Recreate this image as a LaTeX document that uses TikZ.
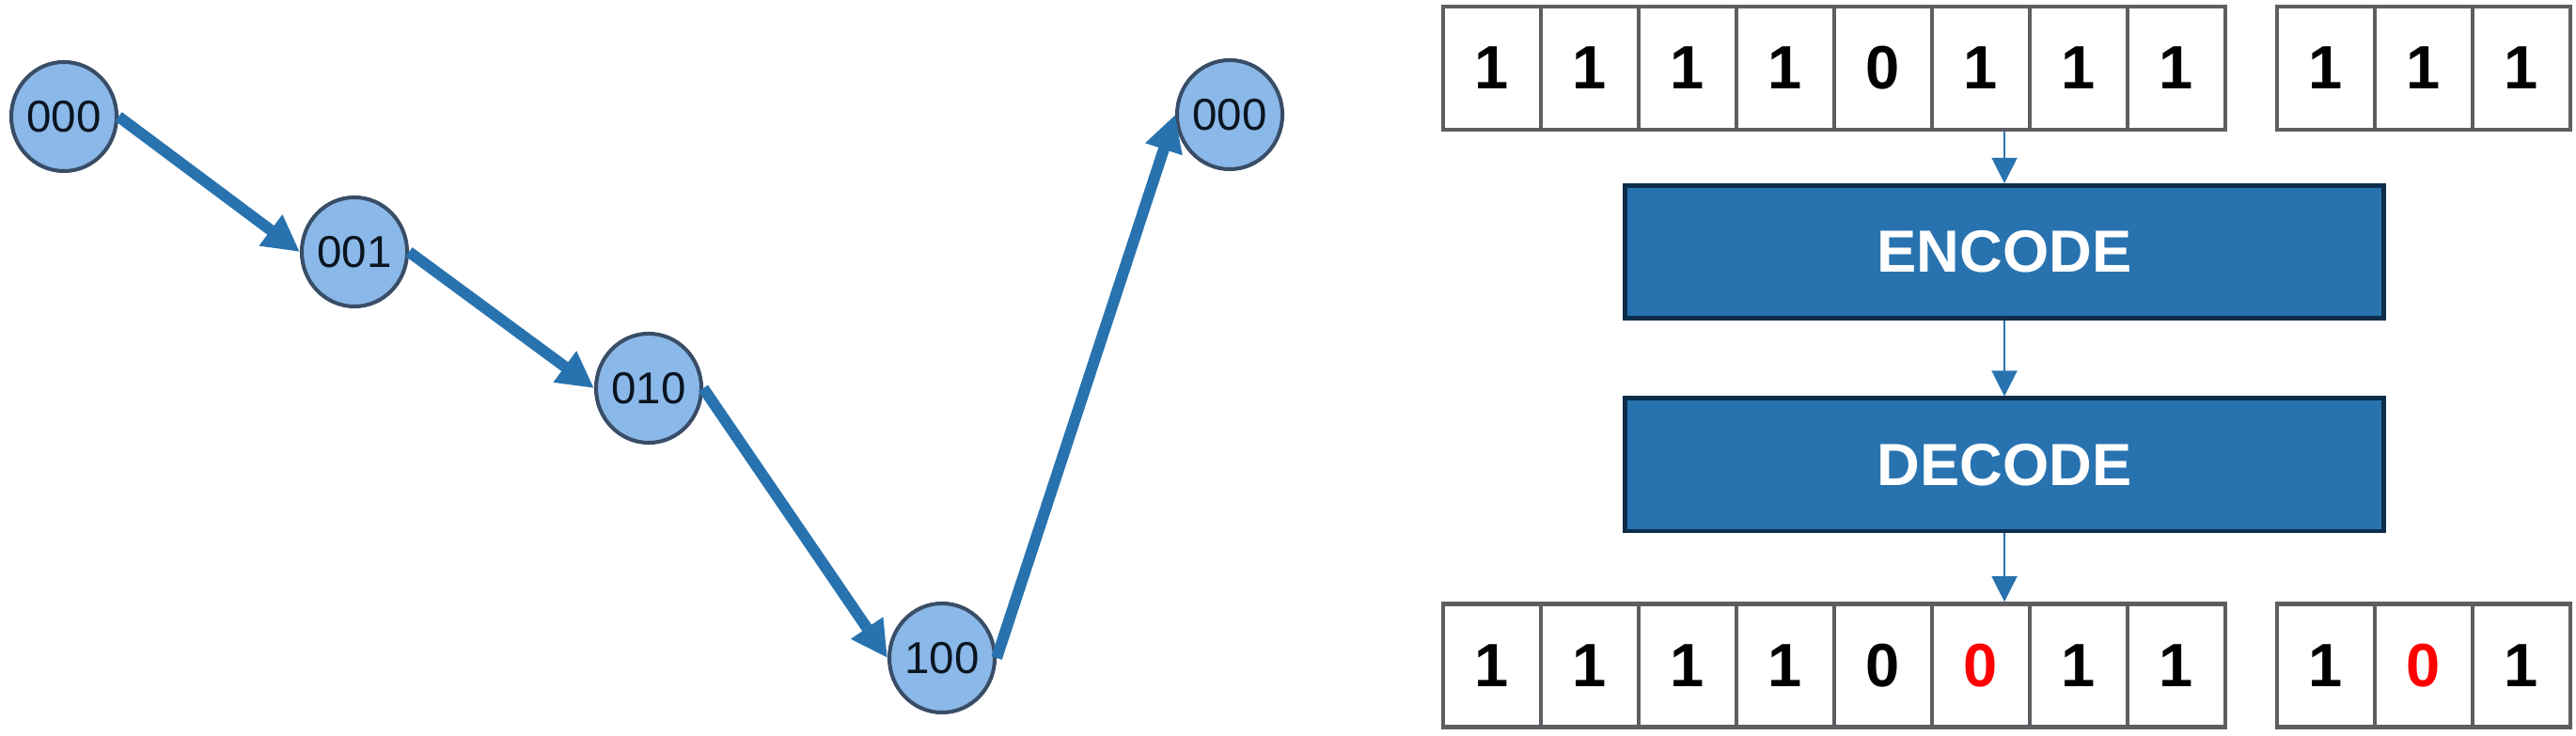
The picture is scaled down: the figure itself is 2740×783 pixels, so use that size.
\documentclass[tikz,border=0pt]{standalone}
\usepackage{fontspec}
\setmainfont{Liberation Sans}
\usetikzlibrary{positioning,calc,arrows.meta,shapes.geometric}
\definecolor{nodefill}{HTML}{8AB8E8}
\definecolor{nodeline}{HTML}{394D67}
\definecolor{nodetext}{HTML}{0A1520}
\definecolor{arrowblue}{HTML}{2873AF}
\definecolor{boxline}{HTML}{0D2D4A}
\definecolor{cellline}{HTML}{5E5E62}
\definecolor{flipred}{HTML}{FF0000}

\tikzset{
  state/.style={ellipse, draw=nodeline, fill=nodefill, line width=1.15pt, minimum width=1.12cm, minimum height=1.16cm, inner sep=0pt, text=nodetext, font=\fontsize{13.5}{16}\selectfont},
  hop/.style={-{Triangle[length=11pt,width=11pt]}, draw=arrowblue, line width=3.4pt},
  bit/.style={draw=cellline, fill=white, line width=1.3pt, minimum width=1.04cm, minimum height=1.31cm, inner sep=0pt, font=\bfseries\fontsize{18.5}{21}\selectfont},
  coder/.style={draw=boxline, fill=arrowblue, line width=1.4pt, minimum width=8.07cm, minimum height=1.41cm, inner sep=0pt, text=white, font=\bfseries\fontsize{18}{21}\selectfont},
  link/.style={-{Triangle[length=7.7pt,width=7.7pt]}, draw=arrowblue, line width=0.4pt}
}

\begin{document}
\begin{tikzpicture}[x=0.01cm,y=-0.01cm]

\useasboundingbox (0,0) rectangle (2740,783);

% walk through the states
\node[state] (s0) at (68,124) {000};
\node[state] (s1) at (377,268) {001};
\node[state] (s2) at (690,413) {010};
\node[state] (s3) at (1002,700) {100};
\node[state] (s4) at (1308,122) {000};

\draw[hop] (s0.east) -- (s1.west);
\draw[hop] (s1.east) -- (s2.west);
\draw[hop] (s2.east) -- (s3.west);
\draw[hop] (s3.east) -- (s4.west);

% bits before and after
\foreach \b [count=\i] in {1,1,1,1,0,1,1,1}
  \node[bit] (t\i) at ({1587+104*(\i-1)},72.5) {\b};
\foreach \b [count=\i] in {1,1,1}
  \node[bit] (u\i) at ({2474+104*(\i-1)},72.5) {\b};

\foreach \b/\c [count=\i] in {1/black,1/black,1/black,1/black,0/black,0/flipred,1/black,1/black}
  \node[bit,text=\c] (b\i) at ({1587+104*(\i-1)},708) {\b};
\foreach \b/\c [count=\i] in {1/black,0/flipred,1/black}
  \node[bit,text=\c] (v\i) at ({2474+104*(\i-1)},708) {\b};

\node[coder] (enc) at (2132,268) {ENCODE};
\node[coder] (dec) at (2132,494.5) {DECODE};

\draw[link] (enc.north |- t6.south) -- (enc.north);
\draw[link] (enc.south) -- (dec.north);
\draw[link] (dec.south) -- (dec.south |- b6.north);

\end{tikzpicture}
\end{document}
